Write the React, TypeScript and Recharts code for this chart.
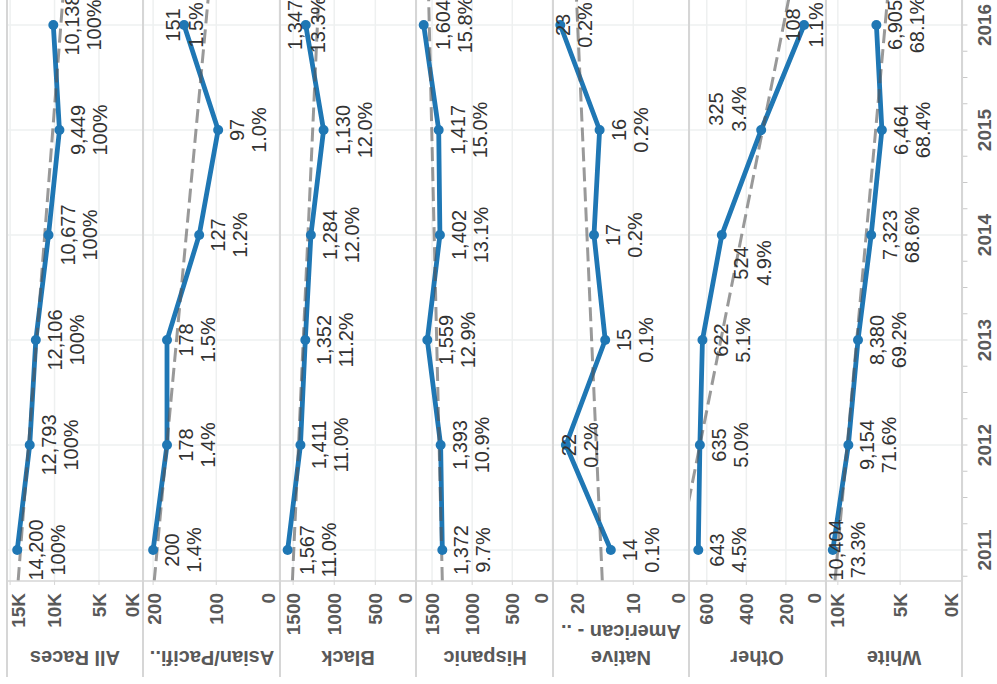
import React from 'react'
import { LineChart, Line, XAxis, YAxis, CartesianGrid, ReferenceLine } from 'recharts'

// values
const years = [2011, 2012, 2013, 2014, 2015, 2016]
const groups = ['All Races', 'Asian/Pacifi..', 'Black', 'Hispanic', 'Native American - ..', 'Other', 'White']

const allRaces = [14200, 12793, 12106, 10677, 9449, 10138]
const allRacesPct = ['100%', '100%', '100%', '100%', '100%', '100%']
const asianPacific = [200, 178, 178, 127, 97, 151]
const asianPacificPct = ['1.4%', '1.4%', '1.5%', '1.2%', '1.0%', '1.5%']
const black = [1567, 1411, 1352, 1284, 1130, 1347]
const blackPct = ['11.0%', '11.0%', '11.2%', '12.0%', '12.0%', '13.3%']
const hispanic = [1372, 1393, 1559, 1402, 1417, 1604]
const hispanicPct = ['9.7%', '10.9%', '12.9%', '13.1%', '15.0%', '15.8%']
const nativeAmerican = [14, 22, 15, 17, 16, 23]
const nativeAmericanPct = ['0.1%', '0.2%', '0.1%', '0.2%', '0.2%', '0.2%']
const other = [643, 635, 622, 524, 325, 108]
const otherPct = ['4.5%', '5.0%', '5.1%', '4.9%', '3.4%', '1.1%']
const white = [10404, 9154, 8380, 7323, 6464, 6905]
const whitePct = ['73.3%', '71.6%', '69.2%', '68.6%', '68.4%', '68.1%']

const counts = [allRaces, asianPacific, black, hispanic, nativeAmerican, other, white]
const shares = [allRacesPct, asianPacificPct, blackPct, hispanicPct, nativeAmericanPct, otherPct, whitePct]

const yMax = [15350, 216, 1660, 1700, 24.3, 690, 10950]
const yTicks = [
  [0, 5000, 10000, 15000],
  [0, 100, 200],
  [0, 500, 1000, 1500],
  [0, 500, 1000, 1500],
  [0, 10, 20],
  [0, 200, 400, 600],
  [0, 5000, 10000],
]

// chart is laid out upright (684 wide x 997 tall) and then turned a quarter left
const FONT = '"Liberation Sans", Arial, sans-serif'
const BLUE = '#1f77b4'
const GRID = '#eef0f0'
const SEP = '#d6d6d6'
const TOP = 7
const PH = 136.43
const CHART_LEFT = 54
const YAXIS_W = 49
const CHART_W = 636
const XAXIS_H = 36
const LABEL_W = 52
const X_DOMAIN = [2010.705, 2016.295]
const xTicks = years.flatMap((y) => [y - 0.25, y, y + 0.25, y + 0.5]).filter((t) => t <= 2016.25)

const kFmt = (v: number) => `${v / 1000}K`
const plainFmt = (v: number) => String(v)

function trendLine(vals: number[]) {
  const n = vals.length
  const mx = years.reduce((a, b) => a + b, 0) / n
  const my = vals.reduce((a, b) => a + b, 0) / n
  let sxy = 0, sxx = 0
  years.forEach((x, i) => { sxy += (x - mx) * (vals[i] - my); sxx += (x - mx) ** 2 })
  const b = sxy / sxx
  return X_DOMAIN.map((x) => ({ x, t: my + b * (x - mx) }))
}

// label offsets: [line1 dy, line2 dy, dx]
const PLACES: Record<string, number[]> = {
  below: [19, 41, 0],
  center: [-11, 12, 0],
  low: [3, 25, 0],
  belowLeft: [19, 42, -28],
  aboveRight: [-45, -22, 21],
}
const labelPlace: Record<string, string> = {
  'Asian/Pacifi..-2016': 'center',
  'Black-2016': 'center',
  'Native American - ..-2012': 'low',
  'Native American - ..-2016': 'low',
  'Other-2014': 'belowLeft',
  'Other-2015': 'aboveRight',
  'Other-2016': 'center',
  'White-2011': 'low',
}

const renderLabel = (idx: number) => (p: any) => {
  const { x, y, index } = p
  const place = PLACES[labelPlace[`${groups[idx]}-${years[index]}`] ?? 'below']
  const style = { fontFamily: FONT, fontSize: 20, fill: '#333' }
  return (
    <g>
      <text x={x + place[2]} y={y + place[0]} dy="0.35em" textAnchor="middle" style={style}>
        {counts[idx][index].toLocaleString('en-US')}
      </text>
      <text x={x + place[2]} y={y + place[1]} dy="0.35em" textAnchor="middle" style={style}>
        {shares[idx][index]}
      </text>
    </g>
  )
}

function YTick({ x, y, payload, fmt }: any) {
  const cy = Math.min(Math.max(y, 11), PH - 11)
  return (
    <text x={x} y={cy} dy="0.35em" textAnchor="end"
      style={{ fontFamily: FONT, fontSize: 19, fontWeight: 700, fill: '#595959' }}>
      {fmt(payload.value)}
    </text>
  )
}

function XTick({ x, y, payload }: any) {
  if (!Number.isInteger(payload.value)) return <g />
  return (
    <text x={x} y={y} dy="0.71em" textAnchor="middle"
      style={{ fontFamily: FONT, fontSize: 19, fontWeight: 700, fill: '#595959' }}>
      {payload.value}
    </text>
  )
}

function Panel({ idx }: { idx: number }) {
  const last = idx === groups.length - 1
  const data = years.map((x, i) => ({ x, v: counts[idx][i] }))
  const fit = trendLine(counts[idx])
  const fmt = idx === 0 || last ? kFmt : plainFmt
  return (
    <LineChart width={CHART_W} height={PH + (last ? XAXIS_H : 0)} data={data}
      margin={{ top: 0, right: 0, bottom: 0, left: 0 }}>
      <CartesianGrid vertical={false} stroke={GRID} strokeWidth={1.5} />
      {years.map((yr) => <ReferenceLine key={yr} x={yr} stroke={GRID} strokeWidth={1.5} />)}
      <XAxis dataKey="x" type="number" domain={X_DOMAIN} allowDataOverflow ticks={xTicks} interval={0}
        hide={!last} height={XAXIS_H} axisLine={false} tickLine={{ stroke: '#c8c8c8' }} tickSize={5}
        tickMargin={10} tick={<XTick />} />
      <YAxis type="number" domain={[0, yMax[idx]]} ticks={yTicks[idx]} interval={0} allowDataOverflow
        width={YAXIS_W} axisLine={{ stroke: SEP, strokeWidth: 1.5 }} tickLine={{ stroke: SEP }}
        tickSize={4} tickMargin={8} tick={<YTick fmt={fmt} />} />
      <Line dataKey="v" stroke={BLUE} strokeWidth={4.8} dot={{ r: 5, fill: BLUE, stroke: 'none' }}
        activeDot={false} isAnimationActive={false} label={renderLabel(idx)} />
      <Line data={fit} dataKey="t" stroke="#555" strokeOpacity={0.6} strokeWidth={3} strokeDasharray="14 6"
        dot={false} activeDot={false} isAnimationActive={false} />
    </LineChart>
  )
}

export default function App() {
  return (
    <div style={{ position: 'fixed', left: 0, top: 0, width: 997, height: 684, overflow: 'hidden', background: '#fff' }}>
      <style>{'.recharts-surface { overflow: visible; }'}</style>
      <div style={{
        position: 'absolute', left: 0, top: 0, width: 684, height: 997,
        transformOrigin: '0 0', transform: 'translate(0px, 684px) rotate(-90deg)',
      }}>
        {groups.map((g, i) => (
          <div key={g} style={{ position: 'absolute', left: CHART_LEFT, top: TOP + i * PH }}>
            <Panel idx={i} />
          </div>
        ))}
        {groups.map((g, i) => (
          <div key={g + '-label'} style={{
            position: 'absolute', left: 13 + LABEL_W / 2 - PH / 2, top: TOP + i * PH + PH / 2 - LABEL_W / 2,
            width: PH, height: LABEL_W, transform: 'rotate(-90deg)', textAlign: 'center',
            lineHeight: '26px', fontFamily: FONT, fontSize: 20, fontWeight: 700, color: '#595959',
            whiteSpace: 'nowrap',
          }}>
            {g === 'Native American - ..' ? <>Native<br />American - ..</> : g}
          </div>
        ))}
        {groups.concat(['']).map((_, i) => (
          <div key={'sep' + i} style={{
            position: 'absolute', left: 7, top: TOP + i * PH - 1, width: 690, height: 2, background: SEP,
          }} />
        ))}
      </div>
    </div>
  )
}
